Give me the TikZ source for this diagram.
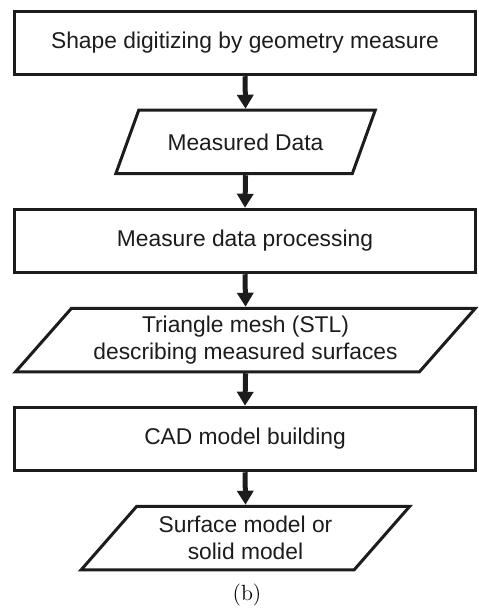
\documentclass[tikz,border=0pt]{standalone}
\usepackage{fontspec}
\newfontfamily\flowfont{Liberation Sans}
\usepackage{tikz}
\usetikzlibrary{arrows.meta, shapes.geometric}
\usepackage{xcolor}
\definecolor{ink}{RGB}{28,28,28}

\tikzset{
  stepbox/.style={rectangle, draw=ink, line width=1.5pt, text=ink,
    minimum width=230.5pt, minimum height=31.75pt, inner sep=0pt,
    align=center, font=\flowfont\fontsize{11.4}{13.8}\selectfont},
  databox/.style={trapezium, trapezium left angle=45,
    trapezium right angle=135, trapezium stretches=true,
    draw=ink, line width=1.5pt, text=ink, minimum height=31.75pt,
    inner sep=0pt, align=center,
    font=\flowfont\fontsize{11.4}{13.8}\selectfont},
  flow/.style={-{Triangle[width=8pt, length=7pt]}, draw=ink,
    line width=2.5pt},
}

\begin{document}
\begin{tikzpicture}[x=0.5pt, y=-0.5pt]
  \useasboundingbox (0,0) rectangle (478,609);
  % process steps
  \foreach \i/\y/\lab in {1/43/Shape digitizing by geometry measure,
      2/241/Measure data processing, 3/439/CAD model building} {
    \node[stepbox] (s\i) at (245,\y) {\lab};
  }
  % data produced by each step
  \foreach \i/\y/\w/\lab in {1/142/130.5pt/Measured Data,
      2/340/230pt/{Triangle mesh (STL)\\describing measured surfaces},
      3/538/164.5pt/{Surface model or\\solid model}} {
    \node[databox, minimum width=\w] (d\i) at (245.5,\y) {\lab};
  }
  % arrows down the chain
  \foreach \a/\b in {s1/d1, d1/s2, s2/d2, d2/s3, s3/d3} {
    \draw[flow] (\a.south) -- (\b.north);
  }
  % caption
  \node[font=\fontsize{11}{13}\selectfont] (cap) at (247,595) {(b)};
\end{tikzpicture}
\end{document}
